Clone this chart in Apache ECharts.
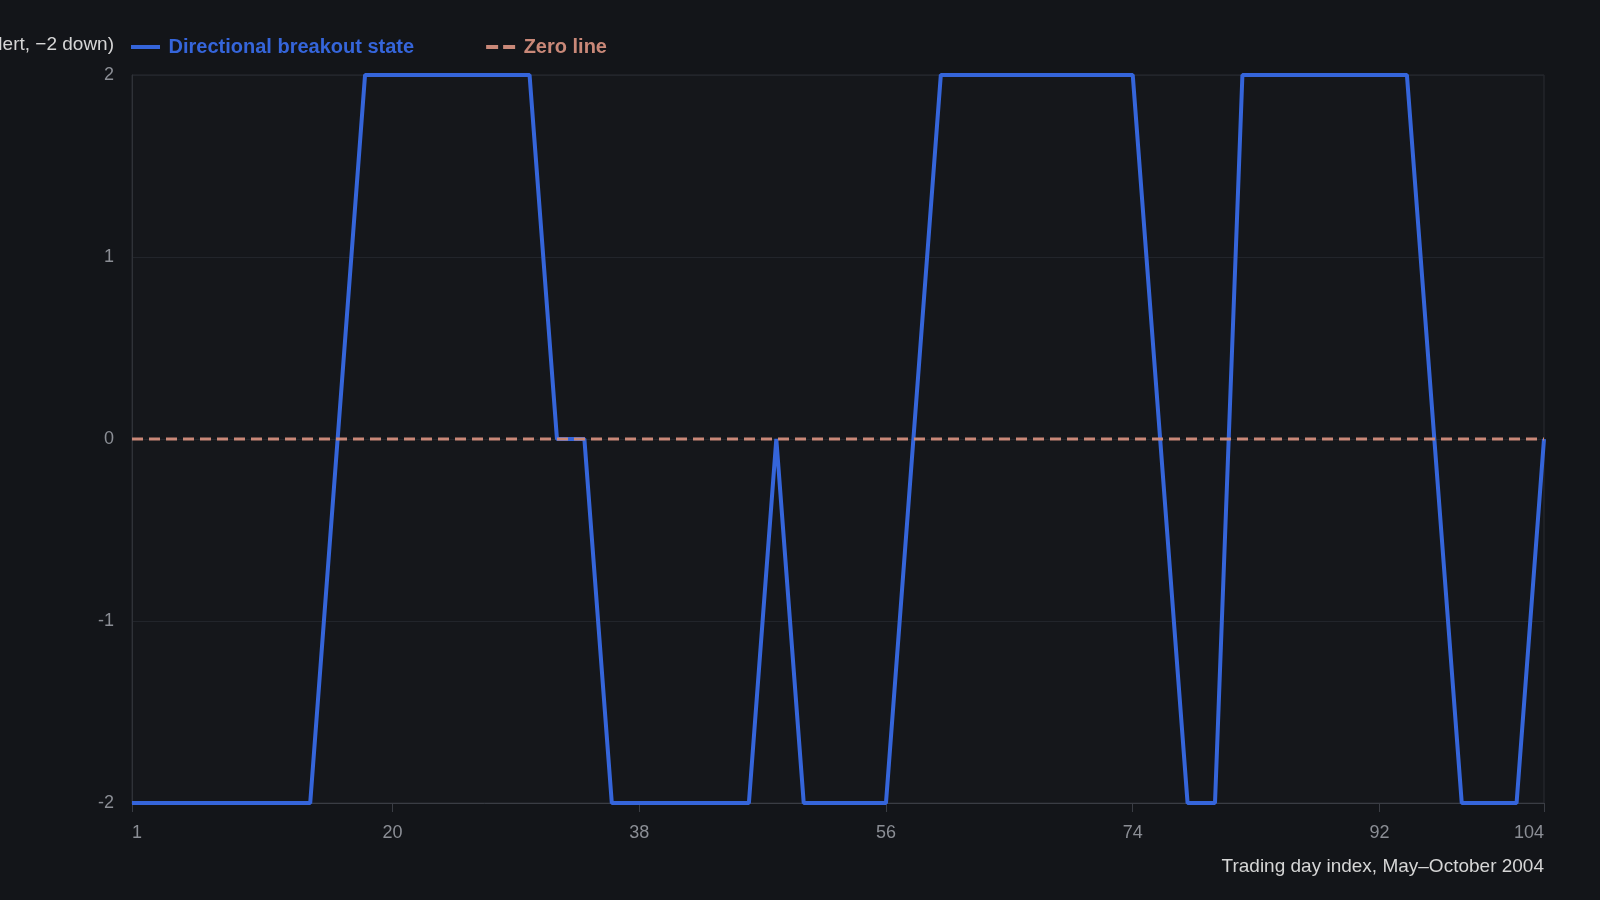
<!DOCTYPE html>
<html>
<head>
<meta charset="utf-8">
<title>Directional breakout state</title>
<script src="https://cdn.jsdelivr.net/npm/echarts@6/dist/echarts.min.js"></script>
<style>
  html, body { margin: 0; padding: 0; background: #131519; }
  #chart { width: 1600px; height: 900px; }
</style>
</head>
<body>
<div id="chart"></div>
<script>
// vertices of the state line (trading day, state)
let days = [1, 14, 18, 30, 32, 34, 36, 46, 48, 50, 56, 60, 74, 78, 80, 82, 94, 98, 102, 104];
let states = [-2, -2, 2, 2, 0, 0, -2, -2, 0, -2, -2, 2, 2, -2, -2, 2, 2, -2, -2, 0];

let zeroDays = [1, 104];
let zeroValues = [0, 0];

let xTicks = [1, 20, 38, 56, 74, 92, 104];
let yTicks = [-2, -1, 0, 1, 2];

let blue = '#3565da';
let salmon = '#c98878';
let font = "'Liberation Sans', Arial, sans-serif";

let stateData = [];
for (let i = 0; i < days.length; i++) {
      stateData.push([days[i], states[i]]);
}
let zeroData = [];
for (let i = 0; i < zeroDays.length; i++) {
      zeroData.push([zeroDays[i], zeroValues[i]]);
}

// legend icons: solid bar and two dashes
let solidIcon = 'path://M0,0H29V4H0Z';
let dashIcon = 'path://M0,0H12V4H0Z M17,0H29V4H17Z';

let chart = echarts.init(document.getElementById('chart'));
let option = {
      backgroundColor: '#131519',
      animation: false,
      textStyle: { fontFamily: font },
      legend: {
            left: 126,
            top: 32,
            itemWidth: 30,
            itemHeight: 4,
            itemGap: 72,
            textStyle: { fontSize: 20, fontWeight: 'bold', fontFamily: font, padding: [0, 0, 0, 3] },
            data: [
                  { name: 'Directional breakout state', icon: solidIcon, textStyle: { color: blue } },
                  { name: 'Zero line', icon: dashIcon, textStyle: { color: salmon } }
            ]
      },
      grid: {
            left: 132,
            right: 56,
            top: 75,
            bottom: 97,
            containLabel: false,
            outerBoundsMode: 'none',
            show: true,
            backgroundColor: '#15171b',
            borderColor: '#2a2d33',
            borderWidth: 1
      },
      xAxis: {
            type: 'value',
            min: 1,
            max: 104,
            name: 'Trading day index, May\u2013October 2004',
            nameLocation: 'end',
            nameGap: 0,
            nameMoveOverlap: false,
            nameTextStyle: {
                  color: '#d6d6d6',
                  fontSize: 19,
                  fontFamily: font,
                  align: 'right',
                  verticalAlign: 'top',
                  padding: [54, 0, 0, 0]
            },
            axisLine: { show: true, onZero: false, lineStyle: { color: '#3a3d44', width: 1 } },
            axisTick: { show: true, customValues: xTicks, length: 9, lineStyle: { color: '#3a3d44' } },
            axisLabel: {
                  customValues: xTicks,
                  color: '#8b8e95',
                  fontSize: 18,
                  fontFamily: font,
                  margin: 21,
                  alignMinLabel: 'left',
                  alignMaxLabel: 'right'
            },
            splitLine: { show: false }
      },
      yAxis: {
            type: 'value',
            min: yTicks[0],
            max: yTicks[yTicks.length - 1],
            interval: 1,
            name: 'State (+2 up alert, \u22122 down)',
            nameLocation: 'end',
            nameGap: 30,
            nameMoveOverlap: false,
            nameTextStyle: {
                  color: '#d6d6d6',
                  fontSize: 19,
                  fontFamily: font,
                  align: 'right',
                  verticalAlign: 'middle',
                  padding: [0, 18, 0, 0]
            },
            axisLine: { show: true, onZero: false, lineStyle: { color: '#2f3238', width: 1 } },
            axisTick: { show: false },
            axisLabel: { color: '#8b8e95', fontSize: 18, fontFamily: font, margin: 18 },
            splitLine: { show: true, lineStyle: { color: '#22252b', width: 1 } }
      },
      series: [
            {
                  name: 'Directional breakout state',
                  type: 'line',
                  data: stateData,
                  showSymbol: false,
                  symbol: 'none',
                  color: blue,
                  lineStyle: { color: blue, width: 4 },
                  z: 3
            },
            {
                  name: 'Zero line',
                  type: 'line',
                  data: zeroData,
                  showSymbol: false,
                  symbol: 'none',
                  color: salmon,
                  lineStyle: { color: salmon, width: 3, type: [11, 6] },
                  z: 4
            }
      ]
};
chart.setOption(option);
</script>
</body>
</html>
